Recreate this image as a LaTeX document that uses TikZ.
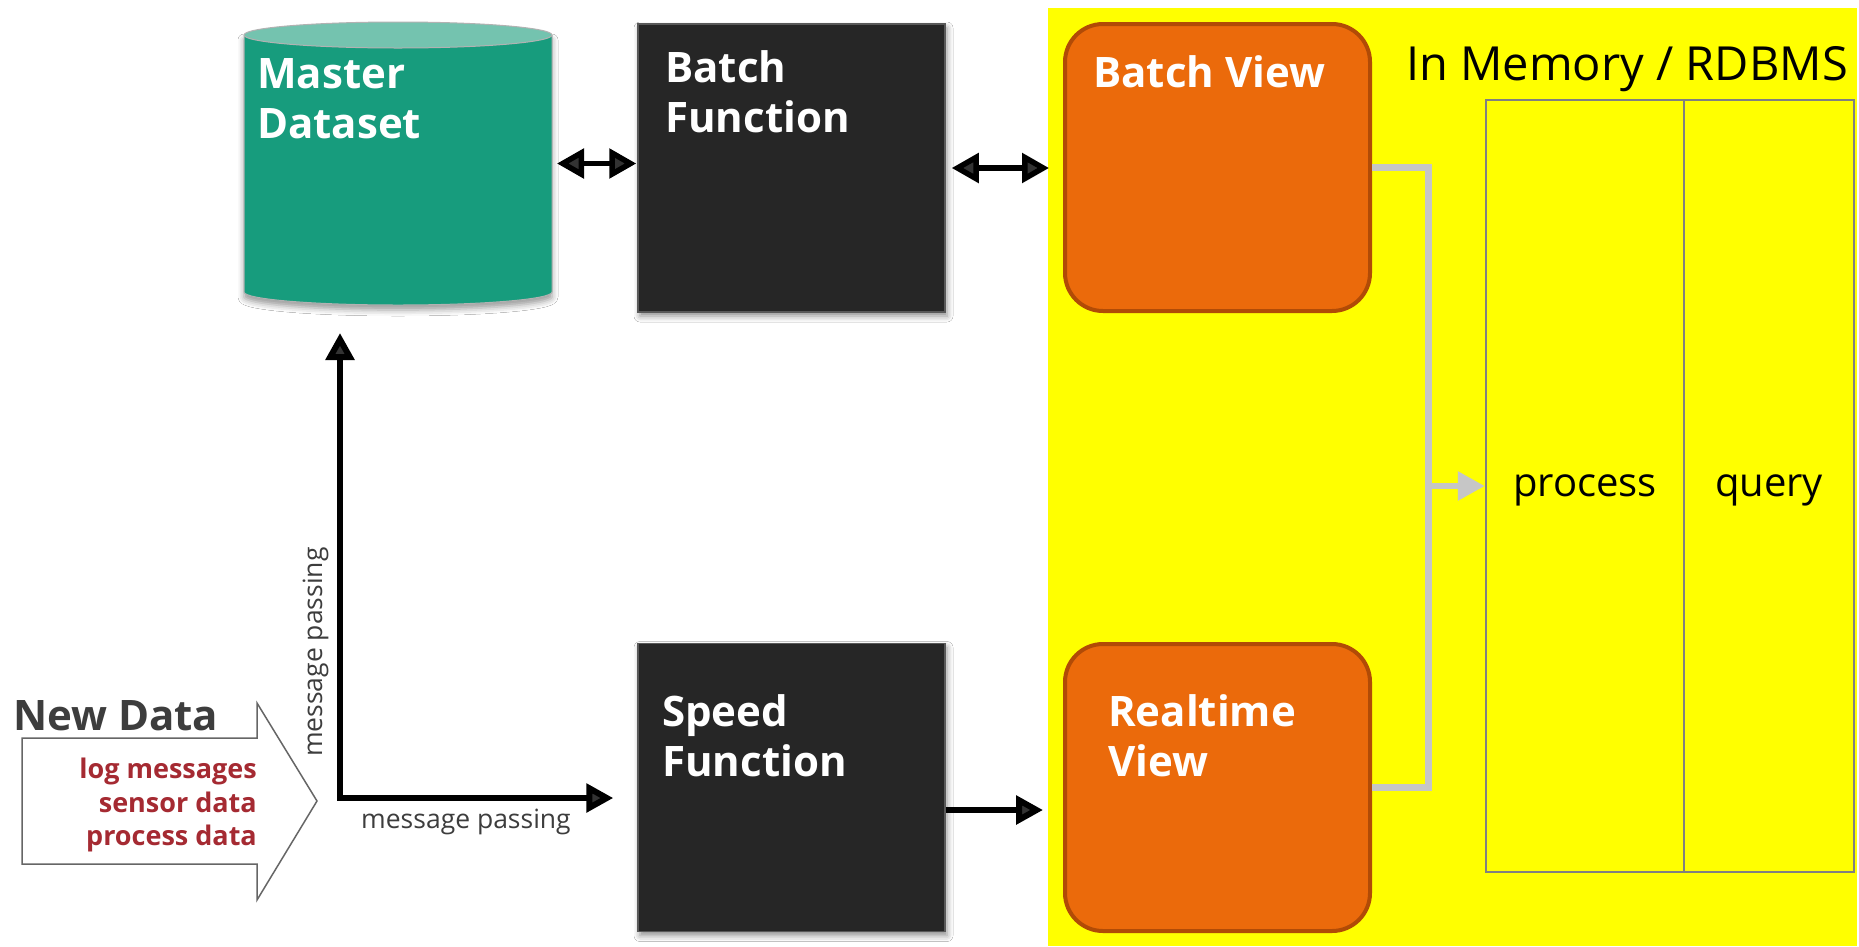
\documentclass[tikz,border=0pt]{standalone}
\usepackage{fontspec}
\setmainfont{Open Sans}
\usetikzlibrary{arrows.meta,shadows.blur,calc}
\definecolor{tealbody}{HTML}{179C7D}
\definecolor{tealtop}{HTML}{74C3AF}
\definecolor{boxblack}{HTML}{262626}
\definecolor{orangefill}{HTML}{EB6A0B}
\definecolor{orangeedge}{HTML}{B14B06}
\definecolor{tablegray}{HTML}{808080}
\definecolor{conngray}{HTML}{C6C6C6}
\definecolor{darkred}{HTML}{A52A32}
\definecolor{txtgray}{HTML}{3D3D3D}
\definecolor{yel}{HTML}{FFFF00}
\begin{document}
\begin{tikzpicture}[x=1pt,y=-1pt,
 fnbox/.style={draw=black!65, line width=1.5pt, fill=boxblack, minimum width=307pt, minimum height=288pt, inner sep=0pt,
   blur shadow={shadow xshift=2pt, shadow yshift=-4pt, shadow blur radius=6pt, shadow opacity=45}},
 viewbox/.style={draw=orangeedge, line width=4pt, fill=orangefill, rounded corners=38pt, minimum width=305pt, minimum height=287pt, inner sep=0pt},
 boxlabel/.style={anchor=north west, inner sep=0pt, align=left, text=white, font=\fontsize{42}{50}\selectfont\bfseries},
 col/.style={draw=tablegray, line width=2.5pt, minimum height=772pt, inner sep=0pt, text depth=0pt, font=\fontsize{40}{48}\selectfont},
 blkarrow/.style={line width=6pt, arrows={-Triangle[length=27pt,width=28pt]}},
 dblarrow/.style={line width=5.5pt, arrows={Triangle[length=27pt,width=29pt]-Triangle[length=27pt,width=29pt]}},
 grayline/.style={draw=conngray, line width=7pt, line join=miter},
 grayarrow/.style={draw=conngray, line width=6pt, arrows={-Triangle[length=27pt,width=28pt]}},
 mptext/.style={inner sep=0pt, text=txtgray, font=\fontsize{26.5}{30}\selectfont}
]
\path[use as bounding box, fill=white] (0,0) rectangle (1859,946);
% yellow area
\fill[yel] (1048,8) rectangle (1857,946);

% Master dataset cylinder
\fill[tealbody, draw=black!30, line width=1pt,
  blur shadow={shadow xshift=0pt, shadow yshift=-5pt, shadow blur radius=6pt, shadow opacity=40}]
  (244,35) -- (244,292) arc[start angle=180, end angle=0, x radius=154, y radius=13] -- (552,35) -- cycle;
\filldraw[fill=tealtop, draw=black!30, line width=1pt] (398,35) ellipse[x radius=154, y radius=13];
\node[minimum width=308pt, minimum height=283pt, inner sep=0pt, outer sep=0pt] (master) at (398,163.5) {};
\node[boxlabel] (masterlbl) at (257,58) {Master\\Dataset};

% function boxes
\node[fnbox] (batchfn) at (791.5,168) {};
\node[boxlabel] (batchfnlbl) at (665,50) {Batch\\Function};
\node[fnbox] (speedfn) at (791.5,787.5) {};
\node[boxlabel] (speedfnlbl) at (662,694) {Speed\\Function};

% view boxes
\node[viewbox] (batchview) at (1217.5,167.5) {};
\node[boxlabel] (batchviewlbl) at (1093,55) {Batch View};
\node[viewbox] (realtime) at (1217.5,787.5) {};
\node[boxlabel] (realtimelbl) at (1108,694) {Realtime\\View};

% table
\node[col, minimum width=198pt] (procol) at (1585,486) {process};
\node[col, minimum width=170pt] (querycol) at (1769,486) {query};
\node[anchor=base, inner sep=0pt, font=\fontsize{47}{50}\selectfont] (imlbl) at (1627,80) {In Memory / RDBMS};

% gray connector
\coordinate (jtop) at (1428,167.5);
\coordinate (jbot) at (1428,787.5);
\coordinate (junction) at (1428,486);
\draw[grayline] (batchview.east) -- (jtop) -- (jbot) -- (realtime.east);
\draw[grayarrow] (junction) -- (procol.west);

% black arrows
\draw[dblarrow, shorten <=5pt, shorten >=1pt] (master.east) -- (master.east -| batchfn.west);
\draw[dblarrow, shorten <=6pt, shorten >=14pt] (batchfn.east) -- (batchfn.east -| batchview.west);
\draw[blkarrow, shorten >=20pt] ([yshift=-22.5pt]speedfn.east) -- ([yshift=-22.5pt]realtime.west);

% message passing
\coordinate (corner) at (340,798);
\draw[line width=6pt, arrows={Triangle[length=27pt,width=28pt]-Triangle[length=27pt,width=28pt]}, line join=miter,
  shorten <=28pt, shorten >=24pt] (corner |- master.south) -- (corner) -- (corner -| speedfn.west);
\node[mptext, anchor=base] (mph) at (466,828) {message passing};
\node[mptext, anchor=base, rotate=90] (mpv) at (322,652) {message passing};

% new data arrow
\draw[draw=black!60, line width=1.5pt, fill=white] (22,738) -- (257,738) -- (257,703) -- (317,801) -- (257,900) -- (257,864) -- (22,864) -- cycle;
\node[anchor=base west, inner sep=0pt, text=txtgray, font=\fontsize{42}{50}\selectfont\bfseries] (newdatalbl) at (13,730) {New Data};
\node[anchor=north east, align=right, inner sep=0pt, text=darkred, font=\fontsize{27}{33.5}\selectfont\bfseries] (newdatalist) at (257,758) {log messages\\sensor data\\process data};
\end{tikzpicture}
\end{document}
